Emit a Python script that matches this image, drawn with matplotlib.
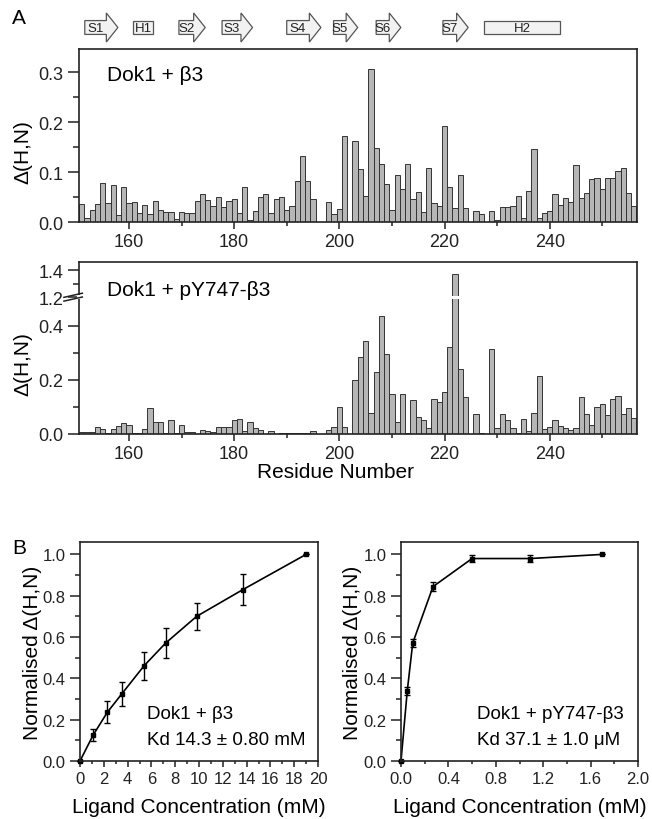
import numpy as np
import matplotlib
matplotlib.use('Agg')
import matplotlib.pyplot as plt
import matplotlib.transforms as mtransforms
from matplotlib.patches import Polygon, Rectangle
from matplotlib.ticker import MultipleLocator, FixedLocator, FormatStrFormatter

plt.rcParams['font.family'] = ['Liberation Sans', 'DejaVu Sans']

# residue numbers and chemical shift changes
residues = np.arange(151, 257)
shift_b3 = [0.036, 0.009, 0.025, 0.036, 0.079, 0.038, 0.074, 0.014, 0.071, 0.038,
            0.040, 0.019, 0.035, 0.017, 0.042, 0.025, 0.020, 0.021, 0.006, 0.020,
            0.019, 0.018, 0.042, 0.056, 0.044, 0.032, 0.050, 0.030, 0.042, 0.046,
            0.018, 0.071, 0.004, 0.022, 0.050, 0.056, 0.019, 0.046, 0.050, 0.025,
            0.032, 0.083, 0.132, 0.082, 0.046, 0.0, 0.0, 0.040, 0.017, 0.026,
            0.172, 0.0, 0.162, 0.107, 0.053, 0.306, 0.148, 0.117, 0.077, 0.025,
            0.095, 0.066, 0.117, 0.046, 0.060, 0.020, 0.109, 0.038, 0.033, 0.193,
            0.071, 0.028, 0.095, 0.028, 0.0, 0.022, 0.017, 0.0, 0.022, 0.004,
            0.030, 0.030, 0.033, 0.053, 0.009, 0.063, 0.146, 0.009, 0.019, 0.022,
            0.056, 0.035, 0.048, 0.040, 0.115, 0.048, 0.058, 0.087, 0.089, 0.066,
            0.089, 0.089, 0.102, 0.109, 0.058, 0.033]
shift_py = [0.006, 0.006, 0.008, 0.027, 0.018, 0.003, 0.018, 0.030, 0.040, 0.033,
            0.003, 0.003, 0.018, 0.095, 0.046, 0.044, 0.003, 0.051, 0.003, 0.033,
            0.008, 0.008, 0.0, 0.015, 0.010, 0.008, 0.027, 0.027, 0.027, 0.050,
            0.055, 0.010, 0.043, 0.022, 0.015, 0.0, 0.010, 0.0, 0.002, 0.002,
            0.002, 0.002, 0.003, 0.005, 0.010, 0.0, 0.0, 0.015, 0.027, 0.098,
            0.027, 0.0, 0.198, 0.283, 0.344, 0.079, 0.228, 0.435, 0.295, 0.149,
            0.046, 0.149, 0.005, 0.126, 0.061, 0.052, 0.022, 0.130, 0.118, 0.156,
            0.320, 1.37, 0.239, 0.137, 0.0, 0.073, 0.002, 0.0, 0.315, 0.023,
            0.073, 0.051, 0.023, 0.005, 0.055, 0.011, 0.078, 0.213, 0.018, 0.027,
            0.050, 0.029, 0.023, 0.013, 0.022, 0.137, 0.073, 0.033, 0.098, 0.111,
            0.070, 0.130, 0.140, 0.073, 0.095, 0.059]

# secondary structure elements
ss_labels = ['S1', 'H1', 'S2', 'S3', 'S4', 'S5', 'S6', 'S7', 'H2']
ss_start = [151.6, 160.8, 169.5, 177.7, 190.0, 198.9, 207.0, 219.7, 227.6]
ss_end = [157.9, 164.6, 174.5, 183.5, 196.5, 203.5, 211.7, 224.5, 241.9]
ss_kind = ['E', 'H', 'E', 'E', 'E', 'E', 'E', 'E', 'H']

# titrations
conc_b3 = [0, 1.1, 2.3, 3.5, 5.4, 7.2, 9.8, 13.7, 19.0]
norm_b3 = [0, 0.125, 0.236, 0.324, 0.462, 0.571, 0.70, 0.83, 1.0]
err_b3 = [0, 0.03, 0.053, 0.058, 0.068, 0.071, 0.067, 0.073, 0]
conc_py = [0, 0.053, 0.099, 0.27, 0.6, 1.09, 1.7]
norm_py = [0, 0.34, 0.571, 0.844, 0.98, 0.98, 1.0]
err_py = [0, 0.02, 0.02, 0.02, 0.015, 0.015, 0]

BAR_FC = '#b6b6b6'
BAR_EC = '#333333'

fig = plt.figure(figsize=(6.52, 8.2), dpi=100)


def px_axes(x0, y0, x1, y1):
    return fig.add_axes([x0 / 652, 1 - y1 / 820, (x1 - x0) / 652, (y1 - y0) / 820])


def style(ax, ylen=8, xlen=5):
    for s in ax.spines.values():
        s.set_linewidth(1.2)
        s.set_color('#222222')
    ax.tick_params(which='both', direction='out', width=1.1, colors='#222222')
    ax.tick_params(axis='y', which='major', length=ylen)
    ax.tick_params(axis='y', which='minor', length=ylen / 2)
    ax.tick_params(axis='x', which='major', length=xlen)
    ax.tick_params(axis='x', which='minor', length=xlen * 0.6)


ax_ss = px_axes(79, 12, 637, 45)
ax1 = px_axes(79, 50, 637, 223)
ax2 = px_axes(79, 263, 637, 435)
ax3 = px_axes(80, 543, 318, 762)
ax4 = px_axes(401, 543, 638, 762)

XLIM = (150.5, 256.6)

# secondary structure cartoon
ax_ss.set_xlim(*XLIM)
ax_ss.set_ylim(0, 1)
ax_ss.axis('off')
head = 2.2
for lab, s, e, kind in zip(ss_labels, ss_start, ss_end, ss_kind):
    if kind == 'E':
        pts = [(s, 0.29), (e - head, 0.29), (e - head, 0.06), (e, 0.5),
               (e - head, 0.94), (e - head, 0.71), (s, 0.71)]
        cx = (s + e - head) / 2
    else:
        pts = [(s, 0.29), (e, 0.29), (e, 0.71), (s, 0.71)]
        cx = (s + e) / 2
    ax_ss.add_patch(Polygon(pts, closed=True, fc='#f2f2f2', ec='#555555', lw=0.9))
    ax_ss.text(cx, 0.48, lab, ha='center', va='center', fontsize=9.5, color='#222222')

# top panel
ax1.bar(residues, shift_b3, width=1.0, color=BAR_FC, edgecolor=BAR_EC, linewidth=0.7)
ax1.set_xlim(*XLIM)
ax1.set_ylim(0, 0.346)
ax1.yaxis.set_major_locator(MultipleLocator(0.1))
ax1.yaxis.set_minor_locator(MultipleLocator(0.05))
ax1.yaxis.set_major_formatter(FormatStrFormatter('%.1f'))
ax1.xaxis.set_major_locator(MultipleLocator(20))
ax1.xaxis.set_minor_locator(MultipleLocator(10))
style(ax1)
ax1.tick_params(labelsize=13)
ax1.tick_params(axis='x', pad=3)
ax1.set_ylabel('Δ(H,N)', fontsize=15)
ax1.yaxis.set_label_coords(-0.084, 0.41)
ax1.text(0.05, 0.855, 'Dok1 + β3', transform=ax1.transAxes, fontsize=15, va='center')

# middle panel with broken axis
LO, HI, EPS, UP = 0.505, 1.2, 1e-3, 0.5
U1 = LO + EPS * (HI - LO)


def fwd(v):
    v = np.asarray(v, dtype=float)
    return np.where(v <= LO, v, np.where(v >= HI, U1 + (v - HI) * UP, LO + (v - LO) * EPS))


def inv(u):
    u = np.asarray(u, dtype=float)
    return np.where(u <= LO, u, np.where(u >= U1, HI + (u - U1) / UP, LO + (u - LO) / EPS))


ax2.set_yscale('function', functions=(fwd, inv))
ax2.bar(residues, shift_py, width=1.0, color=BAR_FC, edgecolor=BAR_EC, linewidth=0.7)
ax2.set_xlim(*XLIM)
ax2.set_ylim(0, 1.46)
ax2.yaxis.set_major_locator(FixedLocator([0.0, 0.2, 0.4, 1.2, 1.4]))
ax2.yaxis.set_minor_locator(FixedLocator([0.1, 0.3, 1.3]))
ax2.yaxis.set_major_formatter(FormatStrFormatter('%.1f'))
ax2.xaxis.set_major_locator(MultipleLocator(20))
ax2.xaxis.set_minor_locator(MultipleLocator(10))
style(ax2)
ax2.tick_params(labelsize=13)
ax2.tick_params(axis='x', pad=3)
ax2.set_ylabel('Δ(H,N)', fontsize=15)
ax2.yaxis.set_label_coords(-0.084, 0.41)
ax2.set_xlabel('Residue Number', fontsize=15)
ax2.xaxis.set_label_coords(0.46, -0.165)
ax2.text(0.05, 0.843, 'Dok1 + pY747-β3', transform=ax2.transAxes, fontsize=15, va='center')

b = float(fwd(HI) / fwd(1.46))
trans = mtransforms.blended_transform_factory(ax2.transData, ax2.transAxes)
ax2.add_patch(Rectangle((221.3, b - 0.012), 1.4, 0.02, transform=trans,
                        fc='white', ec='none', zorder=3))
ax2.add_patch(Rectangle((-0.004, b - 0.01), 0.008, 0.02, transform=ax2.transAxes,
                        fc='white', ec='none', zorder=4, clip_on=False))
for dy in (-0.011, 0.011):
    ax2.plot([-0.027, 0.006], [b + dy - 0.012, b + dy + 0.012], transform=ax2.transAxes,
             color='#222222', lw=1.1, clip_on=False, zorder=5)

# titration panels
for ax, x, y, e, xmax, xmaj, xmin, lines in [
        (ax3, conc_b3, norm_b3, err_b3, 20, 2, 1,
         ['Dok1 + β3', 'Kd 14.3 ± 0.80 mM']),
        (ax4, conc_py, norm_py, err_py, 2.0, 0.4, 0.2,
         ['Dok1 + pY747-β3', 'Kd 37.1 ± 1.0 μM'])]:
    ax.errorbar(x, y, yerr=e, fmt='-s', color='black', ms=3, lw=1.2,
                elinewidth=1.0, capsize=2.5, capthick=1.0, clip_on=False)
    ax.set_xlim(0, xmax)
    ax.set_ylim(0, 1.06)
    ax.xaxis.set_major_locator(MultipleLocator(xmaj))
    ax.xaxis.set_minor_locator(MultipleLocator(xmin))
    ax.yaxis.set_major_locator(MultipleLocator(0.2))
    ax.yaxis.set_minor_locator(MultipleLocator(0.1))
    ax.yaxis.set_major_formatter(FormatStrFormatter('%.1f'))
    style(ax, ylen=7, xlen=4)
    ax.tick_params(axis='y', labelsize=12)
    ax.tick_params(axis='x', labelsize=12)
    ax.set_ylabel('Normalised Δ(H,N)', fontsize=15)
    ax.set_xlabel('Ligand Concentration (mM)', fontsize=15)
    ax.xaxis.set_label_coords(0.5, -0.165)
    tx = 0.28 if ax is ax3 else 0.32
    ax.text(tx, 0.215, lines[0], transform=ax.transAxes, fontsize=13.5, va='center')
    ax.text(tx, 0.10, lines[1], transform=ax.transAxes, fontsize=13.5, va='center')

ax4.xaxis.set_major_formatter(FormatStrFormatter('%.1f'))
ax3.yaxis.set_label_coords(-0.16, 0.5)
ax4.yaxis.set_label_coords(-0.165, 0.5)

fig.text(12 / 652, 1 - 18 / 820, 'A', fontsize=15, va='center')
fig.text(12 / 652, 1 - 548 / 820, 'B', fontsize=15, va='center')

fig.savefig('out.png', dpi=100)
